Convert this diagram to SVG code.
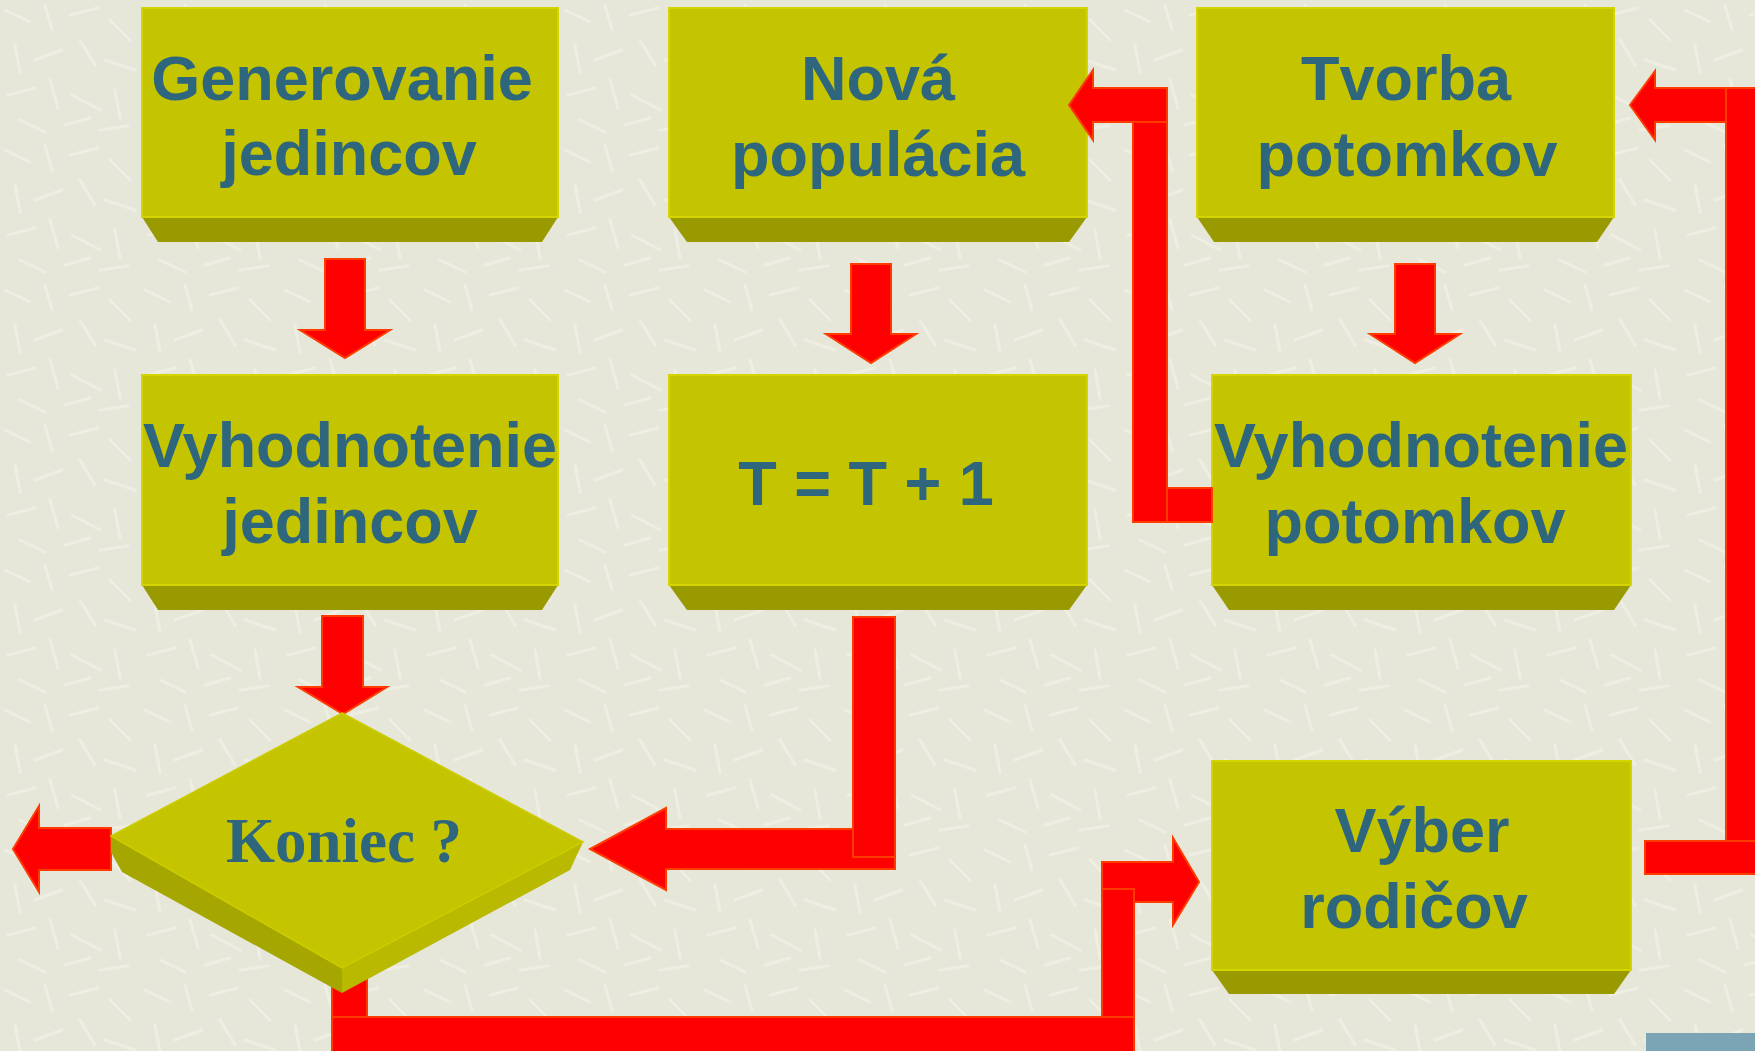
<svg xmlns="http://www.w3.org/2000/svg" width="1755" height="1051" viewBox="0 0 1755 1051">
<style>
.face{fill:#c4c400;stroke:#d4d400;stroke-width:2}
.bevel{fill:#999900}
.t{font-family:"Liberation Sans",Arial,sans-serif;font-weight:bold;font-size:63px;fill:#2e667e;text-anchor:middle}
.ts{font-family:"Liberation Serif","Times New Roman",serif;font-weight:bold;font-size:63px;fill:#2e667e;text-anchor:middle}
.ar{fill:#ff0000;stroke:#ff3c00;stroke-width:2}
</style>
<defs>
<pattern id="bg" width="140" height="140" patternUnits="userSpaceOnUse">
<rect width="140" height="140" fill="#e6e6d9"/>
<g stroke="#f1f1e6" stroke-width="3" stroke-linecap="round" opacity="0.75">
<line x1="5" y1="10" x2="30" y2="22"/><line x1="45" y1="5" x2="52" y2="30"/><line x1="70" y1="15" x2="98" y2="8"/>
<line x1="110" y1="20" x2="130" y2="40"/><line x1="15" y1="45" x2="20" y2="72"/><line x1="35" y1="60" x2="62" y2="50"/>
<line x1="80" y1="40" x2="95" y2="65"/><line x1="105" y1="60" x2="135" y2="70"/><line x1="8" y1="95" x2="35" y2="88"/>
<line x1="50" y1="80" x2="58" y2="108"/><line x1="72" y1="95" x2="100" y2="110"/><line x1="115" y1="90" x2="120" y2="118"/>
<line x1="20" y1="120" x2="45" y2="132"/><line x1="65" y1="125" x2="90" y2="118"/><line x1="100" y1="130" x2="128" y2="126"/>
</g>
</pattern>
</defs>
<rect width="1755" height="1051" fill="url(#bg)"/>
<rect x="1646" y="1033" width="110" height="20" fill="#7ba5b5"/>

<g id="n-generovanie">
<polygon class="bevel" points="142,217 558,217 542,242 158,242"/>
<rect class="face" x="142" y="8" width="416" height="209"/>
<text class="t" x="342" y="100">Generovanie</text>
<text class="t" x="349" y="175">jedincov</text>
</g>
<g id="n-nova">
<polygon class="bevel" points="669,217 1087,217 1069,242 687,242"/>
<rect class="face" x="669" y="8" width="418" height="209"/>
<text class="t" x="878" y="100">Nová</text>
<text class="t" x="878" y="176">populácia</text>
</g>
<g id="n-tvorba">
<polygon class="bevel" points="1197,217 1614,217 1597,242 1214,242"/>
<rect class="face" x="1197" y="8" width="417" height="209"/>
<text class="t" x="1406" y="100">Tvorba</text>
<text class="t" x="1407" y="176">potomkov</text>
</g>
<g id="n-vyhodnotenie-jedincov">
<polygon class="bevel" points="142,585 558,585 542,610 158,610"/>
<rect class="face" x="142" y="375" width="416" height="210"/>
<text class="t" x="350" y="467">Vyhodnotenie</text>
<text class="t" x="350" y="543">jedincov</text>
</g>
<g id="n-t">
<polygon class="bevel" points="669,585 1087,585 1069,610 687,610"/>
<rect class="face" x="669" y="375" width="418" height="210"/>
<text class="t" x="866" y="505">T = T + 1</text>
</g>
<g id="n-vyhodnotenie-potomkov">
<polygon class="bevel" points="1212,585 1631,585 1614,610 1229,610"/>
<rect class="face" x="1212" y="375" width="419" height="210"/>
<text class="t" x="1421" y="467">Vyhodnotenie</text>
<text class="t" x="1415" y="543">potomkov</text>
</g>
<g id="n-vyber">
<polygon class="bevel" points="1212,970 1631,970 1614,994 1229,994"/>
<rect class="face" x="1212" y="761" width="419" height="209"/>
<text class="t" x="1422" y="852">Výber</text>
<text class="t" x="1414" y="928">rodičov</text>
</g>

<g id="connectors">
<!-- Generovanie -> Vyhodnotenie jedincov -->
<polygon class="ar" points="325,259 365,259 365,330 390,330 345,358 300,330 325,330"/>
<!-- Nova populacia -> T=T+1 -->
<polygon class="ar" points="851,264 891,264 891,334 916,334 871,363 826,334 851,334"/>
<!-- Tvorba -> Vyhodnotenie potomkov -->
<polygon class="ar" points="1395,264 1435,264 1435,334 1460,334 1415,363 1370,334 1395,334"/>
<!-- Vyhodnotenie jedincov -> Koniec -->
<polygon class="ar" points="322,616 363,616 363,687 387,687 343,714 298,687 322,687"/>
<!-- T=T+1 -> Koniec -->
<polygon class="ar" points="895,829 895,869 666,869 666,890 590,849 666,808 666,829"/>
<rect class="ar" x="853" y="617" width="42" height="240"/>
<!-- Koniec exit left -->
<polygon class="ar" points="111,828 111,870 39,870 39,892 13,849 39,806 39,828"/>
<!-- Koniec -> Vyber rodicov -->
<rect class="ar" x="332" y="960" width="35" height="95"/>
<polygon class="ar" points="1102,862 1173,862 1173,838 1199,882 1173,925 1173,902 1102,902"/>
<rect class="ar" x="1102" y="889" width="32" height="160"/>
<rect class="ar" x="332" y="1017" width="802" height="40"/>
<!-- Vyhodnotenie potomkov -> Nova populacia -->
<polygon class="ar" points="1167,88 1167,122 1093,122 1093,140 1069,105 1093,70 1093,88"/>
<rect class="ar" x="1133" y="122" width="34" height="400"/>
<rect class="ar" x="1167" y="488" width="45" height="34"/>
<!-- Vyber rodicov -> Tvorba potomkov -->
<polygon class="ar" points="1760,88 1760,122 1655,122 1655,140 1630,105 1655,71 1655,88"/>
<rect class="ar" x="1726" y="88" width="34" height="753"/>
<rect class="ar" x="1645" y="841" width="115" height="33"/>
</g>

<g id="n-koniec">
<polygon fill="#a6a600" points="111,836 342,968 342,993 122,872 111,852"/>
<polygon fill="#b9b900" points="583,842 342,968 342,993 570,870"/>
<polygon fill="#c4c400" stroke="#cccc00" stroke-width="1.5" points="342,713 583,842 342,968 111,836"/>
<text class="ts" x="344" y="862">Koniec ?</text>
</g>
</svg>
